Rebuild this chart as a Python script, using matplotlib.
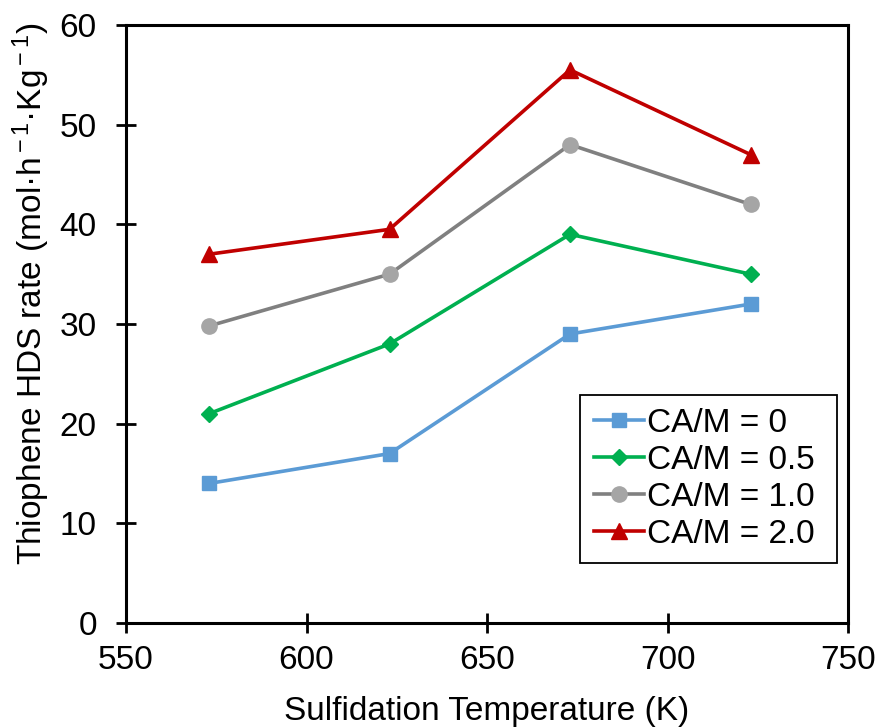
import matplotlib
matplotlib.use("Agg")
import matplotlib.pyplot as plt

plt.rcParams['font.family'] = ['Liberation Sans', 'DejaVu Sans']
plt.rcParams['mathtext.fontset'] = 'custom'
plt.rcParams['mathtext.rm'] = 'Liberation Sans'
plt.rcParams['mathtext.it'] = 'Liberation Sans:italic'
plt.rcParams['mathtext.bf'] = 'Liberation Sans:bold'

temps = [573, 623, 673, 723]
ca0 = [14, 17, 29, 32]
ca05 = [21, 28, 39, 35]
ca10 = [29.8, 35, 48, 42]
ca20 = [37, 39.5, 55.5, 47]
labels = ['CA/M = 0', 'CA/M = 0.5', 'CA/M = 1.0', 'CA/M = 2.0']
x_ticks = [550, 600, 650, 700, 750]
y_ticks = [0, 10, 20, 30, 40, 50, 60]

fig = plt.figure(figsize=(8.8, 7.27), dpi=100)
ax = fig.add_axes([126/880, 1-623/727, (848-126)/880, (623-25)/727])

styles = [
    (ca0, '#5B9BD5', '#5B9BD5', 's', 10),
    (ca05, '#00B050', '#00B050', 'D', 8),
    (ca10, '#808080', '#A5A5A5', 'o', 11),
    (ca20, '#C00000', '#C00000', '^', 12),
]
for (vals, lc, mc, m, ms), lab in zip(styles, labels):
    ax.plot(temps, vals, color=lc, marker=m, markersize=ms, linewidth=2.6,
            label=lab + ' ', markeredgecolor=mc, markerfacecolor=mc)

ax.set_xlim(550, 750)
ax.set_ylim(0, 60)
ax.set_xticks(x_ticks)
ax.set_yticks(y_ticks)
ax.tick_params(direction='inout', length=14, width=2, labelsize=24)
ax.tick_params(axis='x', pad=9)
ax.tick_params(axis='y', pad=14)
for s in ax.spines.values():
    s.set_linewidth(2.2)
    s.set_color('black')

ax.set_xlabel('Sulfidation Temperature (K)', fontsize=24, labelpad=14)
ax.set_ylabel(r'Thiophene HDS rate (mol·h$^{\rm -1}$·Kg$^{\rm -1}$)', fontsize=24)
ax.yaxis.set_label_coords(-0.102, 0.55)

leg = ax.legend(loc='lower right', bbox_to_anchor=(0.985, 0.1), fontsize=24,
                frameon=True, fancybox=False, edgecolor='black', framealpha=1,
                handlelength=1.5, handletextpad=0.1, borderpad=0.4, labelspacing=0.18,
                borderaxespad=0)
leg.get_frame().set_linewidth(1.3)

fig.savefig('out.png', dpi=100)
